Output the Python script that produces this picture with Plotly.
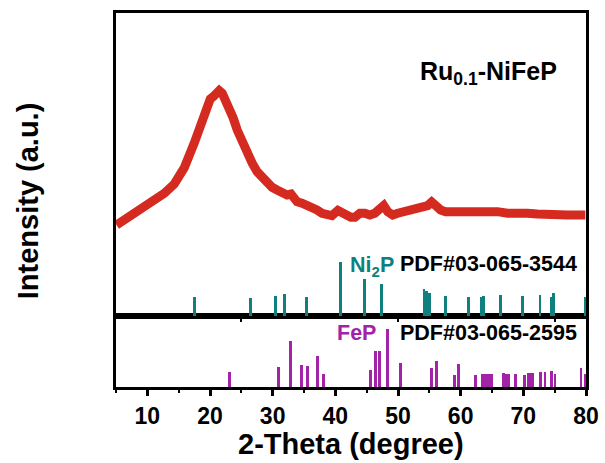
import plotly.graph_objects as go

# XRD pattern of Ru0.1-NiFeP (arbitrary intensity units)
two_theta = [5.08, 6.35, 7.94, 9.54, 11.13, 12.72, 14.31, 15.90, 17.49, 19.09, 19.56, 20.04,
             20.52, 21.00, 21.47, 21.95, 22.43, 22.90, 23.38, 23.70, 24.34, 25.13, 25.93, 26.72,
             27.52, 28.32, 29.11, 29.91, 30.70, 31.50, 32.30, 32.93, 33.89, 34.68, 35.48, 36.27,
             37.07, 37.87, 38.66, 39.46, 40.41, 41.05, 41.84, 42.48, 43.12, 43.91, 44.71, 45.50,
             46.30, 47.10, 47.73, 48.37, 49.16, 49.96, 50.75, 51.55, 52.35, 53.14, 53.94, 54.73,
             55.37, 56.01, 56.80, 57.60, 58.39, 59.19, 59.99, 60.78, 61.42, 62.69, 64.28, 65.88,
             67.47, 69.06, 70.65, 72.24, 73.84, 75.43, 77.02, 78.61, 79.89]
intensity = [91, 96, 104, 109.3, 116, 122.7, 132, 148.3, 173, 202, 212, 217,
             219.3, 222.7, 225.3, 222.7, 217, 209.3, 202, 198, 186, 174.3, 162, 153,
             144.3, 139.3, 132, 128.7, 126, 122.7, 121, 122, 114.3, 112.7, 111, 109.3,
             106, 102.7, 100.3, 100.3, 105.5, 102.7, 100.3, 98.7, 98.7, 102.7, 102.7, 101,
             102.7, 108, 110.5, 104.3, 101, 102.7, 104.3, 106, 106, 107.7, 108.7, 110.3,
             114, 109.3, 106, 104.3, 104.3, 104.3, 105.3, 106, 104.3, 106, 105.3, 104.3,
             102.7, 103.7, 102.7, 102, 101, 101, 101, 101, 101]

# Ni2P reference PDF#03-065-3544
ni2p_pos = [17.54, 26.5, 30.5, 31.87, 35.37, 40.78, 44.66, 47.37, 54.15, 54.53, 55.05, 57.55,
            61.26, 63.28, 63.65, 66.4, 69.86, 72.67, 74.52, 74.84, 79.88]
ni2p_int = [19.3, 18.3, 20, 21.7, 19.3, 54.3, 37.3, 31.7, 26.7, 25, 23.3, 20,
            19, 19, 20.3, 20.7, 20, 21.3, 19.3, 23.3, 19]

# FeP reference PDF#03-065-2595
fep_pos = [23.07, 30.92, 32.83, 34.58, 35.53, 37.18, 38.07, 45.61, 46.35, 47.05, 48.37, 50.39,
           55.37, 56.12, 58.99, 59.67, 62.43, 63.54, 63.92, 64.4, 64.92, 66.88, 67.26, 67.63,
           68.7, 70.17, 70.76, 71.08, 71.45, 72.78, 73.47, 74.52, 75.06, 79.2, 79.93]
fep_int = [15.3, 20.3, 46.3, 22.3, 21.3, 30.7, 12.7, 17, 35.7, 35.7, 58, 24,
           19, 26.3, 12.3, 23, 12.3, 13.3, 13.3, 12.7, 12.7, 14, 13.3, 12.7,
           13.3, 12.3, 14, 14, 14, 14.7, 14.7, 16.3, 13.3, 18.7, 12.7]

x_ticks = [10, 20, 30, 40, 50, 60, 70, 80]

RED = "#d52a1f"
TEAL = "#0f8080"
MAG = "#a222a8"
FONT = "Liberation Sans, Arial, sans-serif"

fig = go.Figure()
fig.add_trace(go.Scatter(x=two_theta, y=intensity, mode="lines",
                         line=dict(color=RED, width=9), xaxis="x2", yaxis="y2",
                         showlegend=False))
fig.add_trace(go.Bar(x=ni2p_pos, y=ni2p_int, width=0.45, marker=dict(color=TEAL, line=dict(width=0)),
                     xaxis="x2", yaxis="y2", showlegend=False))
fig.add_trace(go.Bar(x=fep_pos, y=fep_int, width=0.45, marker=dict(color=MAG, line=dict(width=0)),
                     xaxis="x", yaxis="y", showlegend=False))

split = 0.19
fig.update_layout(
    width=605, height=463, autosize=False,
    margin=dict(l=116, r=19, t=13, b=76, autoexpand=False),
    paper_bgcolor="white", plot_bgcolor="white",
    font=dict(family=FONT, color="black"),
    bargap=0,
    xaxis=dict(domain=[0, 1], range=[5, 80], showline=True, linecolor="black", linewidth=3,
               mirror=True, ticks="outside", tickvals=x_ticks, ticklen=6, tickwidth=2.5,
               tickcolor="black", showgrid=False, zeroline=False, automargin=False,
               tickfont=dict(size=23, family=FONT, color="black", weight="bold"),
               minor=dict(dtick=5, tick0=5, ticks="outside", ticklen=3, tickwidth=2, tickcolor="black")),
    yaxis=dict(domain=[0, split], range=[0, 71], showline=True, linecolor="black", linewidth=3,
               mirror=True, ticks="", showticklabels=False, showgrid=False, zeroline=False,
               automargin=False),
    xaxis2=dict(domain=[0, 1], range=[5, 80], anchor="y2", showline=True, linecolor="black",
                linewidth=3, mirror=True, ticks="outside", tickvals=[25, 50, 75], ticklen=3,
                tickwidth=2, tickcolor="black", showticklabels=False, showgrid=False, zeroline=False,
                automargin=False),
    yaxis2=dict(domain=[split, 1], range=[0, 303], anchor="x2", showline=True, linecolor="black",
                linewidth=3, mirror=True, ticks="", showticklabels=False, showgrid=False,
                zeroline=False, automargin=False),
)

fig.add_annotation(xref="paper", yref="paper", x=-0.187, y=0.497, text="<b>Intensity (a.u.)</b>",
                   textangle=-90, showarrow=False, font=dict(size=29, family=FONT, color="black"),
                   xanchor="center", yanchor="middle")
fig.add_annotation(xref="paper", yref="paper", x=0.4996, y=-0.152, text="<b>2-Theta (degree)</b>",
                   showarrow=False, font=dict(size=29, family=FONT, color="black"),
                   xanchor="center", yanchor="middle")
fig.add_annotation(xref="x2", yref="y2", x=75.74, y=243, text="<b>Ru<sub>0.1</sub>-NiFeP</b>",
                   showarrow=False, font=dict(size=25, family=FONT, color="black"),
                   xanchor="right", yanchor="middle")
fig.add_annotation(xref="x2", yref="y2", x=49.64, y=49,
                   text="<b>Ni<sub>2</sub>P</b>",
                   showarrow=False, font=dict(size=21.5, family=FONT, color=TEAL),
                   xanchor="right", yanchor="middle")
fig.add_annotation(xref="x2", yref="y2", x=78.82, y=51.5,
                   text="<b>PDF#03-065-3544</b>",
                   showarrow=False, font=dict(size=21.5, family=FONT, color="black"),
                   xanchor="right", yanchor="middle")
fig.add_annotation(xref="x", yref="y", x=46.83, y=53.5,
                   text="<b>FeP</b>",
                   showarrow=False, font=dict(size=21.5, family=FONT, color=MAG),
                   xanchor="right", yanchor="middle")
fig.add_annotation(xref="x", yref="y", x=78.82, y=53.5,
                   text="<b>PDF#03-065-2595</b>",
                   showarrow=False, font=dict(size=21.5, family=FONT, color="black"),
                   xanchor="right", yanchor="middle")

fig.write_html("out.html")
